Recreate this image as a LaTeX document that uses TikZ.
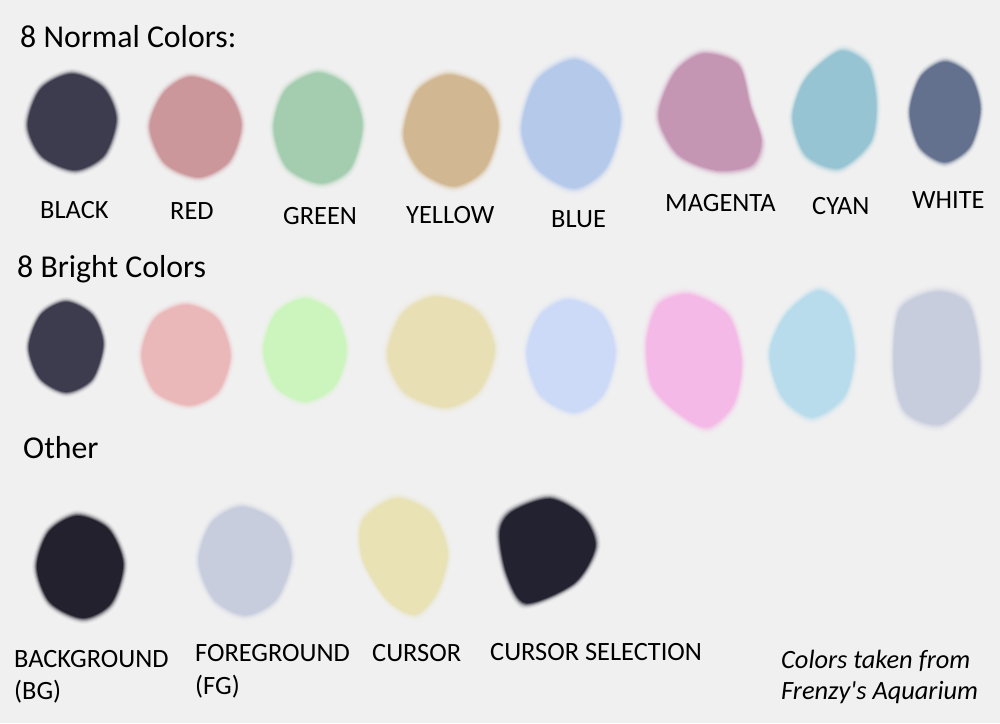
\documentclass[tikz,border=0pt]{standalone}
\usepackage{fontspec}
\setmainfont{Carlito}[Ligatures=TeXOff]
\definecolor{bgc}{HTML}{F0F0F0}
\definecolor{nblack}{HTML}{3D3C4E}
\definecolor{nred}{HTML}{CB979B}
\definecolor{ngreen}{HTML}{A3CDAE}
\definecolor{nyellow}{HTML}{D2B892}
\definecolor{nblue}{HTML}{B5C9EB}
\definecolor{nmagenta}{HTML}{C595B4}
\definecolor{ncyan}{HTML}{97C4D3}
\definecolor{nwhite}{HTML}{63718E}
\definecolor{bblack}{HTML}{3D3C4E}
\definecolor{bred}{HTML}{EBB8B9}
\definecolor{bgreen}{HTML}{CBF5BC}
\definecolor{byellow}{HTML}{E8DFB5}
\definecolor{bblue}{HTML}{CDDAF7}
\definecolor{bmagenta}{HTML}{F4B9E6}
\definecolor{bcyan}{HTML}{B8DCEC}
\definecolor{bwhite}{HTML}{C8CDDD}
\definecolor{obg}{HTML}{22212D}
\definecolor{ofg}{HTML}{C7CDDD}
\definecolor{ocur}{HTML}{E8E2B5}
\definecolor{osel}{HTML}{222230}
\newcommand\myblob[4]{%
  \foreach \sc/\pc in {1.12/4,1.10/10,1.08/20,1.06/33,1.045/48,1.03/64,1.015/82,1/100}{%
    \fill[#3!\pc!bgc,shift={(#1,#2)},scale=\sc] plot[smooth cycle] coordinates {#4};}}
\tikzset{
  title/.style={anchor=base west,inner sep=0pt,font=\fontsize{31.8}{36}\selectfont},
  lbl/.style={anchor=base west,inner sep=0pt,font=\fontsize{26.4}{30}\selectfont},
  note/.style={anchor=base west,inner sep=0pt,font=\fontsize{26.4}{30}\selectfont\itshape}
}
\begin{document}
\begin{tikzpicture}[x=1pt,y=-1pt]
\useasboundingbox (0,0) rectangle (1000,723);
\fill[bgc] (0,0) rectangle (1000,723);
% titles
\node[title] (t1) at (20,47) {8 Normal Colors:};
\node[title] (t2) at (17,277) {8 Bright Colors};
\node[title] (t3) at (23,458) {Other};
% normal row
\myblob{72}{122}{nblack}{(0,-48) (31,-34) (44,-3) (32,33) (3,48) (-30,34) (-44,3) (-31,-33)}
\myblob{196}{127}{nred}{(-5,-50) (30,-36) (45,-3) (33,34) (3,50) (-31,36) (-46,0) (-32,-34)}
\myblob{318}{128}{ngreen}{(0,-55) (31,-40) (44,-3) (32,40) (3,55) (-31,39) (-44,0) (-32,-38)}
\myblob{451}{130}{nyellow}{(-3,-55) (33,-41) (47,-5) (34,38) (3,56) (-31,40) (-47,5) (-34,-38)}
\myblob{571}{124}{nblue}{(3,-64) (34,-45) (49,-5) (35,43) (3,64) (-34,44) (-49,5) (-34,-43)}
\myblob{711}{111}{nmagenta}{(-8,-57) (27,-46) (39,-5) (50,30) (40,54) (5,59) (-33,43) (-52,5) (-36,-38)}
\myblob{834}{109}{ncyan}{(8,-58) (34,-43) (42,-5) (36,33) (5,59) (-28,46) (-41,10) (-33,-21) (-19,-40)}
\myblob{945}{112}{nwhite}{(0,-50) (25,-36) (35,-3) (25,34) (0,50) (-25,35) (-35,0) (-24,-35)}
\node[lbl] (l1) at (40,218) {BLACK};
\node[lbl] (l2) at (170,219) {RED};
\node[lbl] (l3) at (283,224) {GREEN};
\node[lbl] (l4) at (406,223) {YELLOW};
\node[lbl] (l5) at (551,227) {BLUE};
\node[lbl] (l6) at (665,211) {MAGENTA};
\node[lbl] (l7) at (812,214) {CYAN};
\node[lbl] (l8) at (912,208) {WHITE};
% bright row
\myblob{66}{347}{bblack}{(0,-45) (26,-32) (37,-3) (26,32) (0,45) (-26,31) (-37,0) (-25,-32)}
\myblob{186}{355}{bred}{(0,-50) (31,-36) (44,0) (32,36) (3,50) (-31,36) (-44,0) (-31,-36)}
\myblob{305}{350}{bgreen}{(0,-51) (29,-36) (41,0) (29,36) (0,51) (-29,36) (-41,0) (-29,-36)}
\myblob{441}{352}{byellow}{(-5,-55) (36,-40) (53,-3) (38,38) (5,55) (-36,40) (-53,3) (-38,-38)}
\myblob{571}{356}{bblue}{(-3,-56) (30,-42) (44,-5) (32,38) (3,56) (-31,38) (-44,-3) (-31,-40)}
\myblob{695}{361}{bmagenta}{(-36,-56) (-5,-66) (33,-45) (46,0) (38,43) (12,66) (-19,50) (-43,24) (-48,-19)}
\myblob{812}{353}{bcyan}{(6,-62) (32,-43) (42,0) (32,43) (0,64) (-30,43) (-42,0) (-26,-38)}
\myblob{936}{358}{bwhite}{(0,-66) (31,-55) (42,-15) (40,33) (5,66) (-31,53) (-42,10) (-36,-48)}
% other row
\myblob{80}{567}{obg}{(-3,-51) (28,-38) (43,-3) (31,36) (3,51) (-30,35) (-43,0) (-31,-35)}
\myblob{245}{561}{ofg}{(-3,-54) (32,-38) (46,-3) (31,38) (0,54) (-31,38) (-46,0) (-33,-38)}
\myblob{401}{557}{ocur}{(-5,-58) (30,-43) (46,-5) (36,34) (14,57) (-14,42) (-38,2) (-38,-36)}
\myblob{547}{552}{osel}{(-35,-40) (3,-53) (36,-35) (48,-5) (27,31) (-21,51) (-40,22) (-47,-19)}
\node[lbl] (o1) at (14,667) {BACKGROUND};
\node[lbl] (o1b) at (14,699) {(BG)};
\node[lbl] (o2) at (195,661) {FOREGROUND};
\node[lbl] (o2b) at (195,694) {(FG)};
\node[lbl] (o3) at (372,661) {CURSOR};
\node[lbl] (o4) at (490,660) {CURSOR SELECTION};
\node[note] (n1) at (781,668) {Colors taken from};
\node[note] (n2) at (781,699) {Frenzy's Aquarium};
\end{tikzpicture}
\end{document}
